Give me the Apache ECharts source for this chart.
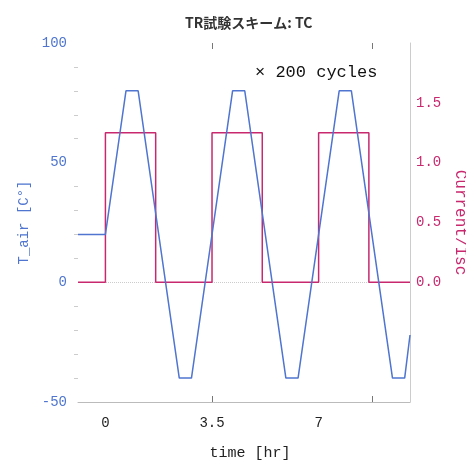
<!DOCTYPE html>
<html>
<head>
<meta charset="utf-8">
<script src="https://cdn.jsdelivr.net/npm/echarts@6/dist/echarts.min.js"></script>
<style>
html,body{margin:0;padding:0;background:#fff;overflow:hidden;width:100%;height:100%;}
#chart{width:100vw;height:100vh;}
</style>
</head>
<body>
<div id="chart"></div>
<script>
// Air temperature profile (time [hr], T_air [C])
var tempTime  = [-0.9, 0, 0.675, 1.075, 2.425, 2.825, 4.175, 4.575, 5.925, 6.325, 7.675, 8.075, 9.425, 9.825, 10];
var tempValue = [20, 20, 80, 80, -40, -40, 80, 80, -40, -40, 80, 80, -40, -40, -22];
// Current / Isc step profile (value holds until next time)
var curTime  = [-0.9, 0, 1.65, 3.5, 5.15, 7, 8.65, 10];
var curValue = [0, 1.25, 0, 1.25, 0, 1.25, 0, 0];
// Tick labels
var xLabelValues = [0, 3.5, 7];
var xTickValues = [3.5, 8.75];
var rightLabelValues = [0, 0.5, 1.0, 1.5];

var mono = '"Liberation Mono", "DejaVu Sans Mono", monospace';
var blue = '#4f75d0';
var magenta = '#c8286e';

var tempData = tempTime.map(function (t, i) { return [t, tempValue[i]]; });
var curData = curTime.map(function (t, i) { return [t, curValue[i]]; });

var chart = echarts.init(document.getElementById('chart'));
chart.setOption({
  animation: false,
  backgroundColor: '#fff',
  title: [
    {
      text: 'TR試験スキーム: TC',
      left: 180, top: 11,
      textStyle: { fontFamily: '"Noto Sans CJK JP"', fontSize: 14, fontWeight: 'bold', color: '#333' }
    },
    {
      text: '× 200 cycles',
      left: 250, top: 59,
      textStyle: { fontFamily: mono, fontSize: 17, fontWeight: 'normal', color: '#111' }
    }
  ],
  grid: { left: 78, right: 56, top: 43, bottom: 59, containLabel: false, outerBoundsMode: 'none' },
  xAxis: [
    {
      type: 'value', min: -0.9, max: 10, position: 'bottom',
      name: 'time [hr]', nameLocation: 'middle', nameGap: 44,
      nameTextStyle: { fontFamily: mono, fontSize: 15, color: '#222', padding: [0, 0, 0, 12] },
      axisLine: { show: true, onZero: false, lineStyle: { color: '#bbb' } },
      axisTick: { show: true, inside: true, length: 6, customValues: xTickValues, lineStyle: { color: '#777' } },
      axisLabel: {
        customValues: xLabelValues, margin: 14,
        fontFamily: mono, fontSize: 14, color: '#222',
        formatter: function (v) { return String(v); }
      },
      splitLine: { show: false }
    },
    {
      type: 'value', min: -0.9, max: 10, position: 'top',
      axisLine: { show: false, onZero: false },
      axisTick: { show: true, inside: true, length: 6, customValues: xTickValues, lineStyle: { color: '#777' } },
      axisLabel: { show: false },
      splitLine: { show: false }
    }
  ],
  yAxis: [
    {
      type: 'value', min: -50, max: 100, interval: 50, position: 'left',
      name: 'T_air [C°]', nameLocation: 'middle', nameGap: 30,
      nameTextStyle: { fontFamily: mono, fontSize: 14, color: blue },
      axisLine: { show: false, onZero: false },
      axisTick: { show: false },
      minorTick: { show: true, splitNumber: 5, length: 4, lineStyle: { color: '#ccc' } },
      axisLabel: { fontFamily: mono, fontSize: 14, color: blue, margin: 11 },
      splitLine: { show: false }
    },
    {
      type: 'value', min: -1, max: 2, interval: 0.5, position: 'right',
      name: 'Current/Isc', nameLocation: 'middle', nameGap: 36, nameRotate: -90,
      nameTextStyle: { fontFamily: mono, fontSize: 16, color: magenta },
      axisLine: { show: true, onZero: false, lineStyle: { color: '#ccc' } },
      axisTick: { show: false },
      axisLabel: {
        fontFamily: mono, fontSize: 14, color: magenta, margin: 6,
        formatter: function (v) {
          for (var i = 0; i < rightLabelValues.length; i++) {
            if (Math.abs(v - rightLabelValues[i]) < 1e-9) return v.toFixed(1);
          }
          return '';
        }
      },
      splitLine: { show: false }
    }
  ],
  series: [
    {
      type: 'line', name: 'Current/Isc', xAxisIndex: 0, yAxisIndex: 1,
      data: curData, step: 'end', symbol: 'none',
      lineStyle: { color: magenta, width: 1.5 }, z: 3
    },
    {
      type: 'line', name: 'T_air', xAxisIndex: 0, yAxisIndex: 0,
      data: tempData, symbol: 'none',
      lineStyle: { color: blue, width: 1.5 }, z: 4,
      markLine: {
        silent: true, symbol: 'none', label: { show: false }, z: 1,
        lineStyle: { color: '#ccc', type: 'dotted', width: 1 },
        data: [{ yAxis: 0 }]
      }
    }
  ]
});
</script>
</body>
</html>
